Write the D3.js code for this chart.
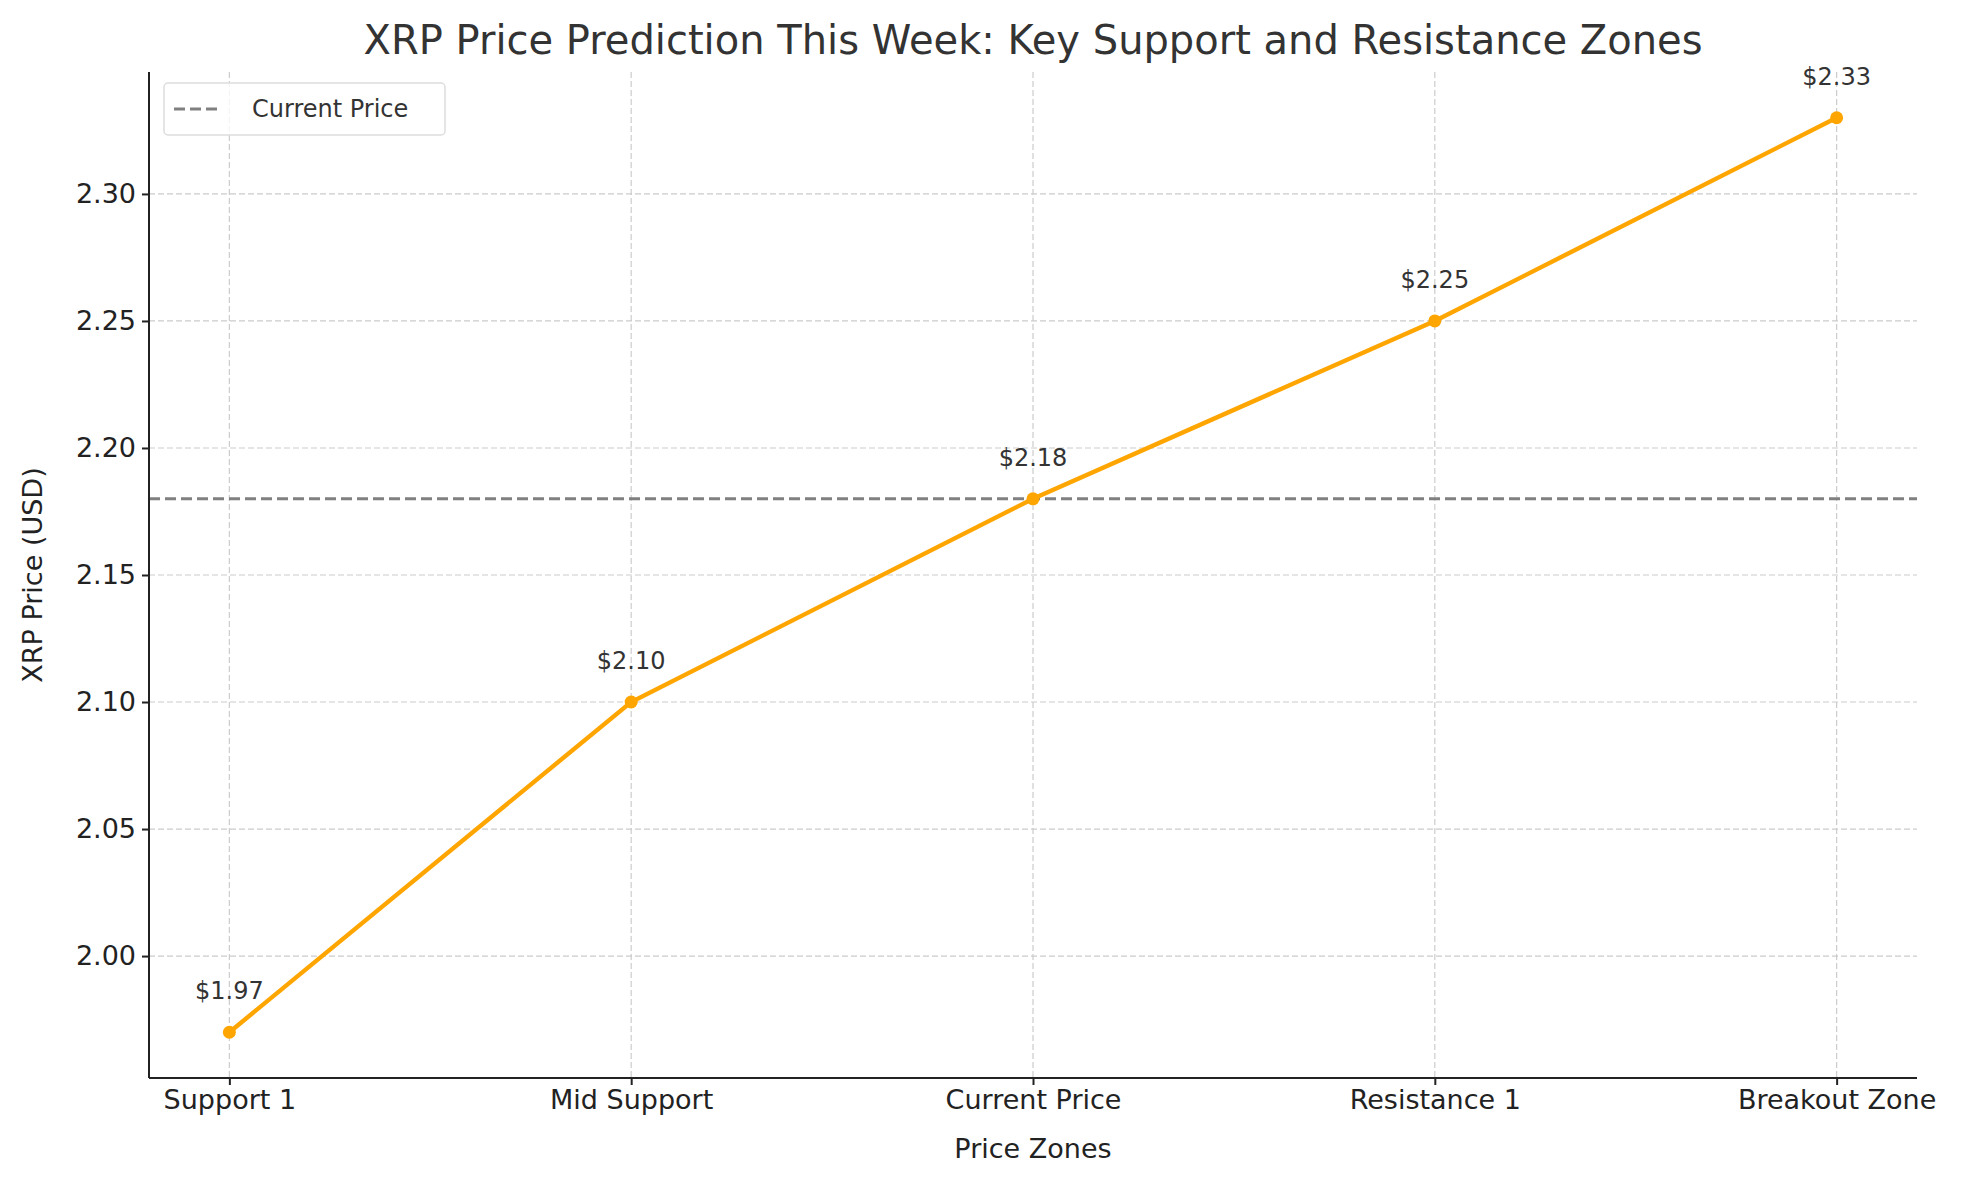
<!DOCTYPE html>
<html><head><meta charset="utf-8">
<script src="https://cdn.jsdelivr.net/npm/d3@7"></script>
<style>body{margin:0;background:#fff}text{font-family:"DejaVu Sans",sans-serif}</style>
</head><body><svg id="chart" width="1970" height="1180"></svg>
<script>
var zones = ['Support 1', 'Mid Support', 'Current Price', 'Resistance 1', 'Breakout Zone']
var prices = [1.97, 2.10, 2.18, 2.25, 2.33]
var currentPrice = 2.18
var yTicks = [2.00, 2.05, 2.10, 2.15, 2.20, 2.25, 2.30]

var margin = {top: 72, right: 53, bottom: 102, left: 149}
var width = 1970, height = 1180
var chartWidth = width - margin.left - margin.right
var chartHeight = height - margin.top - margin.bottom

var svg = d3.select('#chart')
var g = svg.append('g').attr('transform', 'translate(' + margin.left + ',' + margin.top + ')')

var xScale = d3.scaleLinear().domain([-0.2, zones.length - 0.8]).range([0, chartWidth])
var yScale = d3.scaleLinear().domain([1.952, 2.348]).range([chartHeight, 0])

// Grid
g.selectAll('.vgrid').data(zones).enter().append('line')
  .attr('x1', function (d, i) { return xScale(i) }).attr('x2', function (d, i) { return xScale(i) })
  .attr('y1', 0).attr('y2', chartHeight)
  .attr('stroke', '#ccc').attr('stroke-width', 1.2).attr('stroke-dasharray', '6,3')
g.selectAll('.hgrid').data(yTicks).enter().append('line')
  .attr('x1', 0).attr('x2', chartWidth)
  .attr('y1', function (d) { return yScale(d) }).attr('y2', function (d) { return yScale(d) })
  .attr('stroke', '#ccc').attr('stroke-width', 1.2).attr('stroke-dasharray', '6,3')

// Current price line
g.append('line').attr('x1', 0).attr('x2', chartWidth)
  .attr('y1', yScale(currentPrice)).attr('y2', yScale(currentPrice))
  .attr('stroke', '#808080').attr('stroke-width', 3).attr('stroke-dasharray', '11,5')

// Price line
var line = d3.line().x(function (d, i) { return xScale(i) }).y(function (d) { return yScale(d) })
g.append('path').datum(prices).attr('d', line)
  .attr('fill', 'none').attr('stroke', '#FFA500').attr('stroke-width', 4.4)
g.selectAll('.dot').data(prices).enter().append('circle')
  .attr('cx', function (d, i) { return xScale(i) }).attr('cy', function (d) { return yScale(d) })
  .attr('r', 6.5).attr('fill', '#FFA500')
g.selectAll('.lbl').data(prices).enter().append('text')
  .attr('x', function (d, i) { return xScale(i) }).attr('y', function (d) { return yScale(d) - 33 })
  .attr('text-anchor', 'middle').attr('font-size', 24).attr('fill', '#333')
  .text(function (d) { return '$' + d.toFixed(2) })

// Axes
var xAxis = d3.axisBottom(xScale).tickValues(d3.range(zones.length))
  .tickFormat(function (i) { return zones[i] }).tickSize(7).tickPadding(5)
var yAxis = d3.axisLeft(yScale).tickValues(yTicks).tickFormat(d3.format('.2f')).tickSize(7).tickPadding(6)
var gx = g.append('g').attr('transform', 'translate(0,' + chartHeight + ')').call(xAxis)
var gy = g.append('g').call(yAxis)
gx.select('.domain').attr('d', 'M0,0H' + chartWidth)
gy.select('.domain').attr('d', 'M0,0V' + chartHeight)
;[gx, gy].forEach(function (a) {
  a.selectAll('.domain, line').attr('stroke', '#222').attr('stroke-width', 2)
  a.selectAll('text').attr('font-size', 27).attr('fill', '#222').attr('font-family', 'DejaVu Sans')
})

// Legend
var lg = g.append('g').attr('transform', 'translate(15,11)')
lg.append('rect').attr('width', 281).attr('height', 52).attr('rx', 4)
  .attr('fill', '#fff').attr('fill-opacity', 0.8).attr('stroke', '#ddd').attr('stroke-width', 1.5)
lg.append('line').attr('x1', 10).attr('x2', 57).attr('y1', 26).attr('y2', 26)
  .attr('stroke', '#808080').attr('stroke-width', 3).attr('stroke-dasharray', '11,5')
lg.append('text').attr('x', 88).attr('y', 34).attr('font-size', 24).attr('fill', '#333').text('Current Price')

// Titles
svg.append('text').attr('x', 1033).attr('y', 54).attr('text-anchor', 'middle')
  .attr('font-size', 40).attr('fill', '#333').text('XRP Price Prediction This Week: Key Support and Resistance Zones')
svg.append('text').attr('x', margin.left + chartWidth / 2).attr('y', 1158).attr('text-anchor', 'middle')
  .attr('font-size', 27).attr('fill', '#222').text('Price Zones')
svg.append('text').attr('transform', 'translate(42,' + (margin.top + chartHeight / 2) + ') rotate(-90)')
  .attr('text-anchor', 'middle').attr('font-size', 27).attr('fill', '#222').text('XRP Price (USD)')
</script></body></html>
